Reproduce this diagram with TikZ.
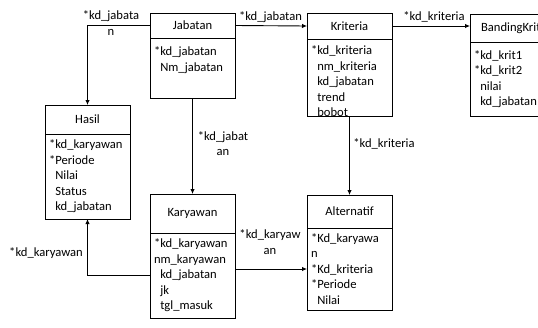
\documentclass[tikz,border=0pt]{standalone}
\usepackage{fontspec}
\setmainfont{Carlito}
\usetikzlibrary{positioning,arrows.meta}

\tikzset{
  tabel/.style={draw, line width=0.9pt, outer sep=0pt, minimum width=85pt, inner sep=0pt},
  isi/.style={draw, line width=0.9pt, outer sep=0pt, text width=77pt, inner xsep=4pt,
    inner ysep=3pt, align=left, below=0pt of #1},
  relasi/.style={draw, line width=0.9pt, -{Latex[length=5pt,width=4.5pt]}},
  ket/.style={align=center, inner sep=0pt},
}
\newcommand{\pk}{*}
\newcommand{\nk}{\phantom{*}}

\begin{document}
\begin{tikzpicture}[x=1pt, y=-1pt, font=\fontsize{12.6pt}{15.5pt}\selectfont]
    \useasboundingbox (0,0) rectangle (538,327);
    \clip (0,0) rectangle (538,327);

    % Tables
    \node[tabel, minimum height=25pt] (jabatan) at (192.5,25.5) {Jabatan};
    \node[isi=jabatan, minimum height=60pt, text depth=33pt] (jabatanisi) {\pk kd\_jabatan\\\nk Nm\_jabatan};
    \node[tabel, minimum height=26pt] (kriteria) at (349.5,26) {Kriteria};
    \node[isi=kriteria, minimum height=77pt, text depth=54pt] (kriteriaisi) {\pk kd\_kriteria\\\nk nm\_kriteria\\\nk kd\_jabatan\\\nk trend\\\nk bobot};
    \node[tabel, minimum width=101pt, minimum height=28pt] (banding) at (520.5,28) {BandingKriteria};
    \node[isi=banding, text width=93pt, minimum height=74pt] (bandingisi) {\pk kd\_krit1\\\pk kd\_krit2\\\nk nilai\\\nk kd\_jabatan};
    \node[tabel, minimum height=29pt] (hasil) at (87.5,119.5) {Hasil};
    \node[isi=hasil, minimum height=85pt] (hasilisi) {\pk kd\_karyawan\\\pk Periode\\\nk Nilai\\\nk Status\\\nk kd\_jabatan};
    \node[tabel, minimum height=39pt] (karyawan) at (192.5,213.5) {Karyawan};
    \node[isi=karyawan, minimum height=85pt] (karyawanisi) {\pk kd\_karyawan\\nm\_karyawan\\\nk kd\_jabatan\\\nk jk\\\nk tgl\_masuk};
    \node[tabel, minimum height=33pt] (alternatif) at (349.5,211.5) {Alternatif};
    \node[isi=alternatif, minimum height=82pt] (alternatifisi) {\pk Kd\_karyawa\\n\\\pk Kd\_kriteria\\\pk Periode\\\nk Nilai};

    % Connect the tables
    \draw[relasi] (jabatan.west) -| (hasil.north);
    \draw[relasi] (jabatan.east) -- (kriteria.west);
    \draw[relasi] (kriteria.east) -- (kriteria.east -| banding.west);
    \draw[relasi] (jabatanisi.south) -- (karyawan.north);
    \draw[relasi] (kriteriaisi.south) -- (alternatif.north);
    \draw[relasi] (karyawanisi.west) -| (hasilisi.south);
    \draw[relasi] (alternatifisi.west -| karyawanisi.east) -- (alternatifisi.west);

    % Keys
    \node[ket] (kjabhasil) at (111,23) {*kd\_jabata\\n};
    \node[ket] (kjabkrit) at (270.5,17) {*kd\_jabatan};
    \node[ket] (kkritband) at (434,17) {*kd\_kriteria};
    \node[ket] (kkritalt) at (384,144) {*kd\_kriteria};
    \node[ket] (kjabkar) at (223,143.5) {*kd\_jabat\\an};
    \node[ket] (kkarhasil) at (46,253) {*kd\_karyawan};
    \node[ket] (kkaralt) at (270,242) {*kd\_karyaw\\an};
\end{tikzpicture}
\end{document}
